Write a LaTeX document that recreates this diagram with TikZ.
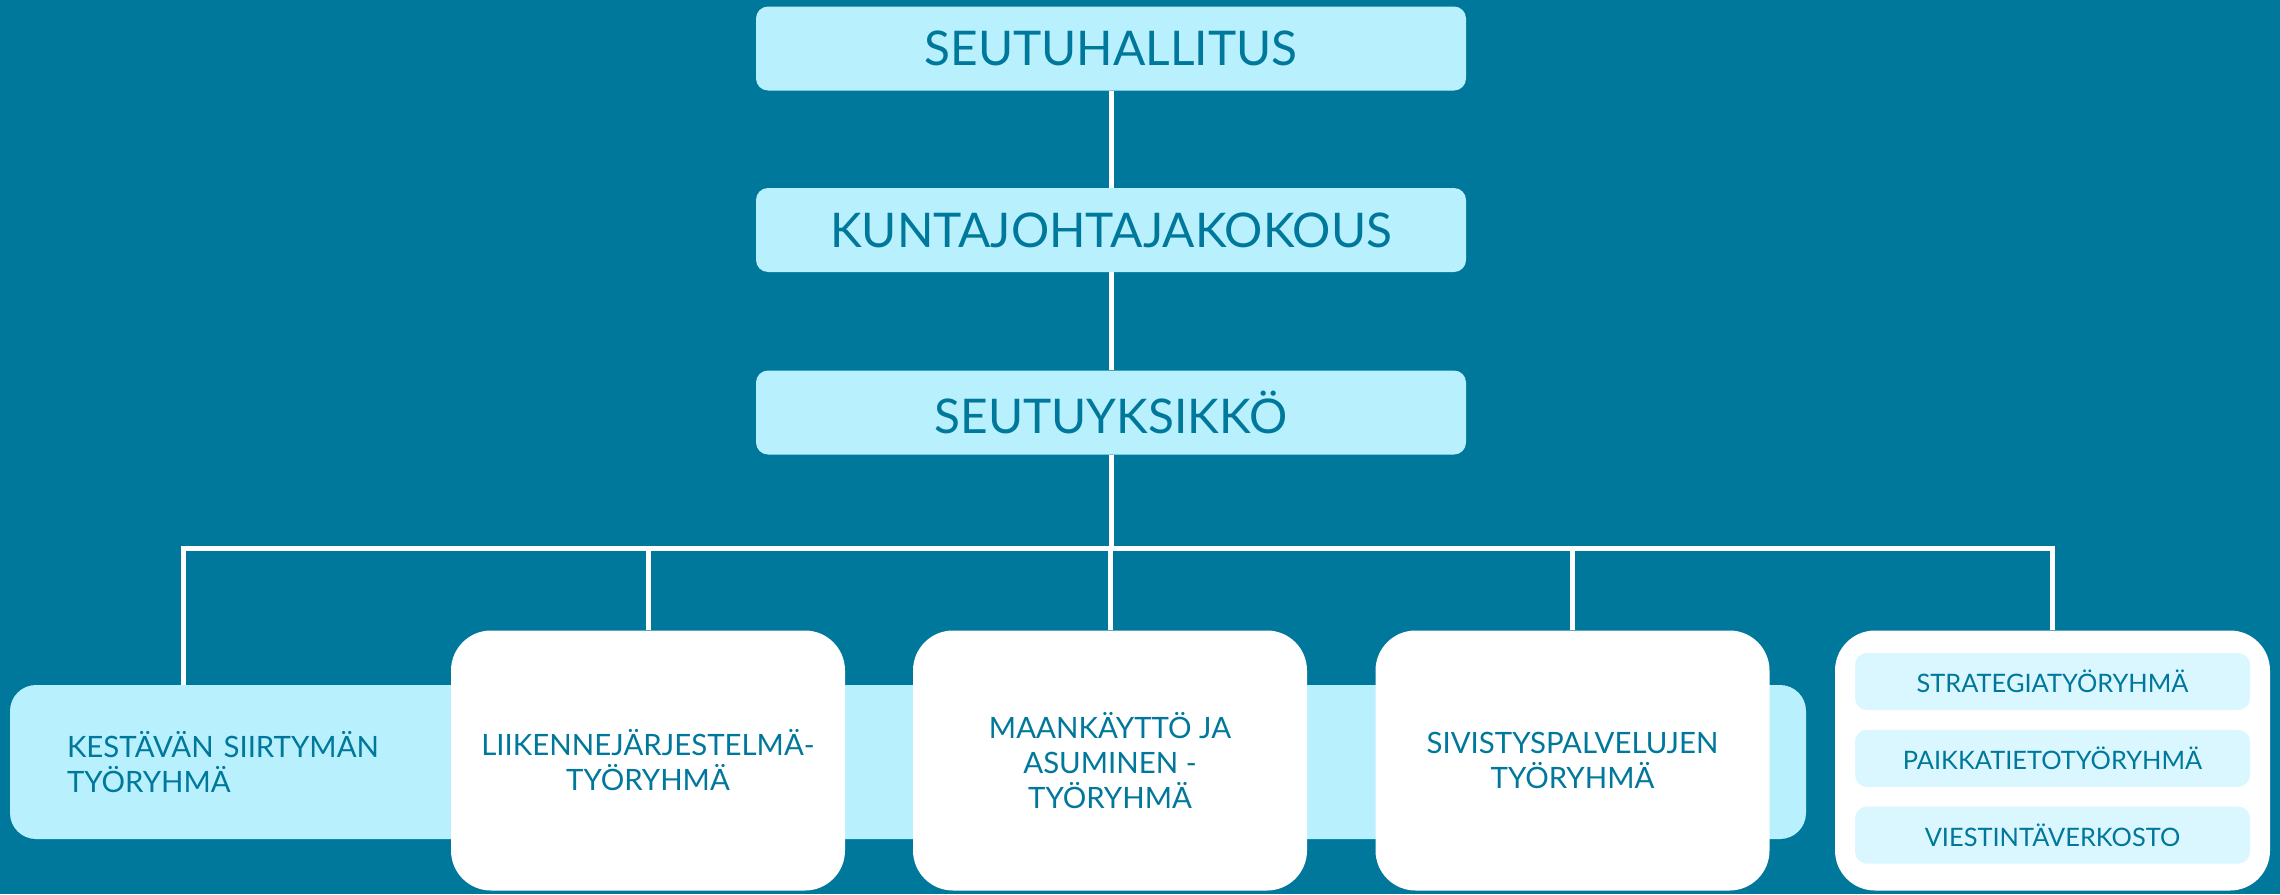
\documentclass[tikz,border=0pt]{standalone}
\usepackage{fontspec}
\setmainfont{Lato}
\usepackage{tikz}
\usetikzlibrary{positioning}

\definecolor{seutu}{HTML}{00789B}
\definecolor{vaalea}{HTML}{B8F0FE}
\definecolor{haalea}{HTML}{DAF6FF}

\begin{document}
\begin{tikzpicture}[x=0.5pt,y=-0.5pt,
      every node/.style={text=seutu,inner sep=0pt},
      topbox/.style={fill=vaalea,rounded corners=6pt,minimum width=355pt,
        minimum height=42pt,font=\fontsize{23.9}{28}\selectfont},
      bandbox/.style={fill=vaalea,rounded corners=13pt,text width=841pt,
        inner xsep=28.5pt,minimum height=77pt,align=left,
        font=\fontsize{14.7}{17.5}\selectfont},
      groupbox/.style={fill=white,rounded corners=20pt,minimum width=197pt,
        minimum height=130pt,align=center,font=\fontsize{14.7}{17.5}\selectfont},
      subbox/.style={fill=haalea,rounded corners=6pt,minimum width=197.5pt,
        minimum height=28.5pt,font=\fontsize{12.7}{15}\selectfont},
      link/.style={draw=white,line width=2.5pt}]
    \useasboundingbox[fill=seutu] (0,0) rectangle (2280,894);

    \node[topbox] (seutuhallitus) at (1111,48.5) {SEUTUHALLITUS};
    \node[topbox] (kuntajohtajakokous) at (1111,230) {KUNTAJOHTAJAKOKOUS};
    \node[topbox] (seutuyksikko) at (1111,412.5) {SEUTUYKSIKKÖ};

    % tyoryhmat
    \node[bandbox] (kestava) at (908,762) {KESTÄVÄN SIIRTYMÄN\\TYÖRYHMÄ};
    \node[groupbox] (liikenne) at (648,760.5) {LIIKENNEJÄRJESTELMÄ-\\TYÖRYHMÄ};
    \node[groupbox] (maankaytto) at (1110,760.5) {MAANKÄYTTÖ JA\\ASUMINEN -\\TYÖRYHMÄ};
    \node[groupbox] (sivistys) at (1572.5,760.5) {SIVISTYSPALVELUJEN\\TYÖRYHMÄ};
    \node[groupbox,minimum width=217.5pt] (ryhmat) at (2052.5,760.5) {};
    \node[subbox] (strategia) at (2052.5,681.5) {STRATEGIATYÖRYHMÄ};
    \node[subbox,below=9.5pt of strategia] (paikkatieto) {PAIKKATIETOTYÖRYHMÄ};
    \node[subbox,below=9.5pt of paikkatieto] (viestinta) {VIESTINTÄVERKOSTO};

    \coordinate (hub) at (1111,548);
    \coordinate (busL) at (183,548);

    \draw[link] (seutuhallitus) -- (kuntajohtajakokous);
    \draw[link] (kuntajohtajakokous) -- (seutuyksikko);
    \draw[link] (seutuyksikko.south) -- (hub);
    \draw[link] (busL |- kestava.north) -- (busL) -- (ryhmat.north |- hub)
      -- (ryhmat.north);
    \foreach \ryhma in {liikenne,maankaytto,sivistys}
      \draw[link] (\ryhma.north |- hub) -- (\ryhma.north);
  \end{tikzpicture}
\end{document}
